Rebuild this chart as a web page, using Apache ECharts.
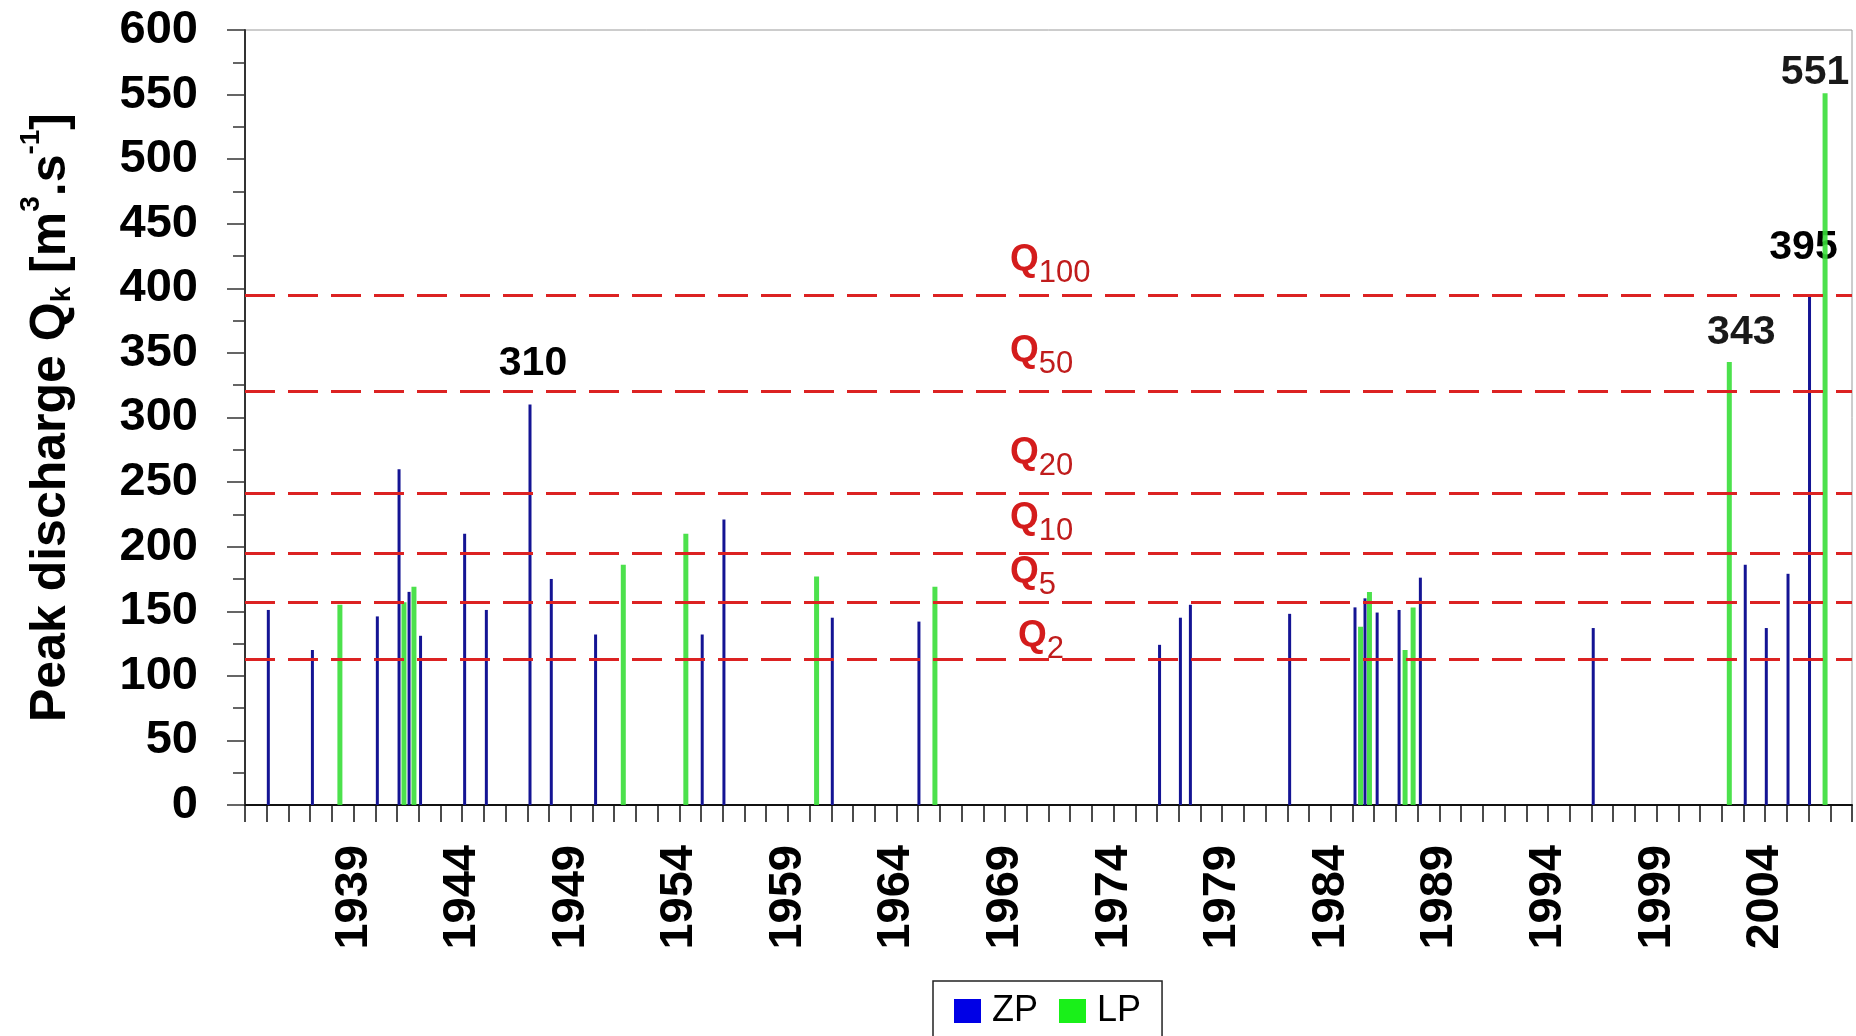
<!DOCTYPE html>
<html><head><meta charset="utf-8">
<script src="https://cdn.jsdelivr.net/npm/echarts@6/dist/echarts.min.js"></script>
<style>html,body{margin:0;padding:0;background:#fff}#c{width:1856px;height:1036px}</style>
</head><body><div id="c"></div>
<script>
// ---- data ----
const zpYears  = [1935.12, 1937.15, 1940.14, 1941.14, 1941.60, 1942.13, 1944.16, 1945.16, 1947.17, 1948.15,
                  1950.19, 1955.10, 1956.10, 1961.09, 1965.08, 1976.16, 1977.12, 1977.58, 1982.15, 1985.16,
                  1985.62, 1986.18, 1987.19, 1988.17, 1996.13, 2003.13, 2004.10, 2005.10, 2006.09];
const zpValues = [151, 120, 146, 260, 165, 131, 210, 151, 310, 175,
                  132, 132, 221, 145, 142, 124, 145, 155, 148, 153,
                  160, 149, 151, 176, 137, 186, 137, 179, 395];
const lpYears  = [1938.37, 1941.32, 1941.78, 1951.42, 1954.30, 1960.32, 1965.77, 1985.37, 1985.78, 1987.42,
                  1987.79, 2002.35, 2006.76];
const lpValues = [155, 157, 169, 186, 210, 177, 169, 138, 165, 120,
                  153, 343, 551];
const quantileSubs   = ['100', '50', '20', '10', '5', '2'];
const quantileValues = [395, 320, 241, 195, 157, 113];
const labelledZP = [310, 395];
const labelledLP = [343, 551];
const xFirstYear = 1934, xLastYear = 2008, xLabelStep = 5;
const yMin = 0, yMax = 600, yStep = 50;

// ---- styles ----
const FONT = 'Liberation Sans';
const qLabelDistance = [[765, 17], [765, 23], [765, 23], [765, 17], [765, 12], [773, 5]];
const valueLabelOffset = {310: [3, -20], 395: [-6, -27], 343: [12, -9], 551: [-10, 0]};

function buildData(xs, ys, labelled) {
  return xs.map((x, i) => {
    const item = { value: [x, ys[i]] };
    if (labelled.indexOf(ys[i]) >= 0) {
      item.label = {
        show: true, position: 'top', distance: 0,
        offset: valueLabelOffset[ys[i]],
        formatter: String(ys[i]),
        fontFamily: FONT, fontWeight: 'bold', fontSize: 41, color: '#000'
      };
    }
    return item;
  });
}

const chart = echarts.init(document.getElementById('c'), null, { renderer: 'canvas' });
chart.setOption({
  animation: false,
  backgroundColor: '#fff',
  grid: { left: 245, right: 4, top: 30, bottom: 231, show: true, borderColor: '#9a9a9a', borderWidth: 1,
          backgroundColor: '#fff', outerBoundsMode: 'none' },
  legend: {
    data: [
      { name: 'ZP', itemStyle: { color: '#0000e6' } },
      { name: 'LP', itemStyle: { color: '#00ee00' } }
    ],
    left: 933, top: 981,
    icon: 'rect', itemWidth: 27, itemHeight: 24, itemGap: 21,
    padding: [10, 21, 10, 21],
    borderColor: '#222', borderWidth: 1.5,
    textStyle: { fontFamily: FONT, fontSize: 36, color: '#000', lineHeight: 40, padding: [0, 0, 0, 6] }
  },
  xAxis: {
    type: 'value', min: xFirstYear, max: xLastYear, interval: 1,
    splitLine: { show: false },
    axisLine: { show: true, lineStyle: { color: '#111', width: 2 } },
    axisTick: { show: true, length: 17, lineStyle: { color: '#111', width: 1.5 } },
    axisLabel: {
      rotate: 90, margin: 40, showMinLabel: true, showMaxLabel: true,
      padding: [0, 0, 14, 0],
      fontFamily: FONT, fontWeight: 'bold', fontSize: 47, color: '#000',
      formatter: v => (v > xFirstYear && v < xLastYear && (v - xFirstYear) % xLabelStep === 0) ? String(v) : ''
    }
  },
  yAxis: {
    type: 'value', min: yMin, max: yMax, interval: yStep,
    name: '{b|Peak discharge Q}{sub|k}{b| [m}{sup|3}{b|.s}{sup|-1}{b|]}',
    nameLocation: 'middle', nameRotate: 90, nameGap: 166,
    nameTextStyle: {
      color: '#000',
      rich: {
        b:   { fontFamily: FONT, fontWeight: 'bold', fontSize: 50, lineHeight: 56, color: '#000' },
        sub: { fontFamily: FONT, fontWeight: 'bold', fontSize: 28, lineHeight: 28, padding: [22, 0, 0, 0], color: '#000' },
        sup: { fontFamily: FONT, fontWeight: 'bold', fontSize: 28, lineHeight: 28, padding: [0, 0, 40, 0], color: '#000' }
      }
    },
    splitLine: { show: false },
    axisLine: { show: true, lineStyle: { color: '#333', width: 2 } },
    axisTick: { show: true, length: 18, lineStyle: { color: '#333', width: 1.5 } },
    minorTick: { show: true, splitNumber: 2, length: 12, lineStyle: { color: '#333', width: 1.5 } },
    axisLabel: { margin: 47, fontFamily: FONT, fontWeight: 'bold', fontSize: 47, color: '#000' }
  },
  series: [
    {
      name: 'ZP', type: 'bar', barWidth: 3, barGap: '-100%',
      itemStyle: { color: '#141494' },
      data: buildData(zpYears, zpValues, labelledZP),
      z: 2
    },
    {
      name: 'LP', type: 'bar', barWidth: 5, barGap: '-100%',
      itemStyle: { color: '#38de38', opacity: 0.9 },
      data: buildData(lpYears, lpValues, labelledLP),
      z: 3,
      markLine: {
        silent: true, symbol: 'none', animation: false,
        lineStyle: { color: '#dc2222', width: 3, type: [30, 13] },
        data: quantileValues.map((v, i) => ({
          yAxis: v,
          label: {
            show: true, position: 'insideStartTop', distance: qLabelDistance[i],
            formatter: '{q|Q}{s|' + quantileSubs[i] + '}',
            rich: {
              q: { fontFamily: FONT, fontWeight: 'bold', fontSize: 37, lineHeight: 36, color: '#d41c1c' },
              s: { fontFamily: FONT, fontSize: 31, lineHeight: 28, padding: [27, 0, 0, 0], color: '#c01c1c' }
            }
          }
        }))
      }
    }
  ]
});
</script>
</body></html>
